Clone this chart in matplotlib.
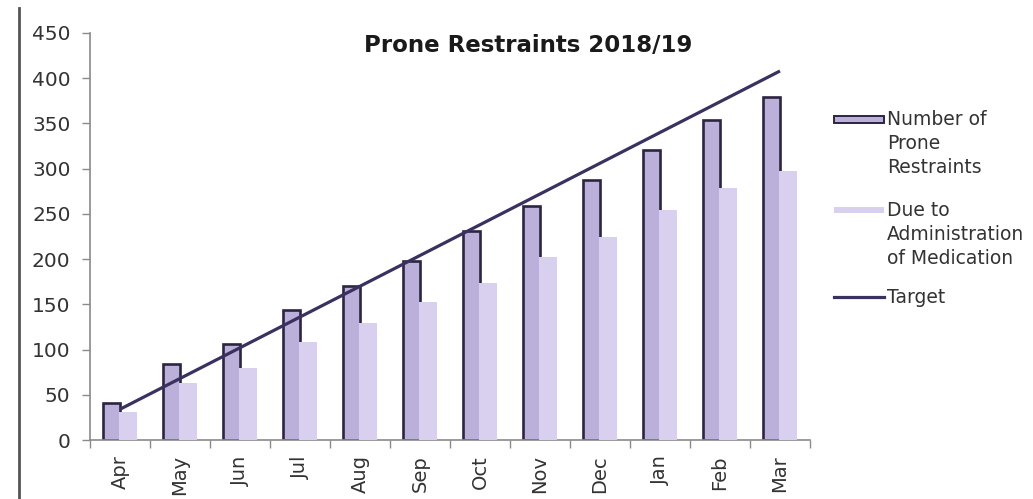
import matplotlib
matplotlib.use("Agg")
import matplotlib.pyplot as plt
import numpy as np
from matplotlib.patches import Rectangle
from matplotlib.lines import Line2D

months = ["Apr", "May", "Jun", "Jul", "Aug", "Sep", "Oct", "Nov", "Dec", "Jan", "Feb", "Mar"]
prone_restraints = [41, 84, 106, 144, 170, 198, 231, 259, 288, 321, 354, 379]
due_to_medication = [31, 63, 80, 108, 129, 153, 174, 202, 225, 254, 279, 297]
target = [34, 68, 102, 136, 170, 204, 238, 272, 306, 340, 374, 408]

title = "Prone Restraints 2018/19"
legend_labels = ["Number of\nProne\nRestraints", "Due to\nAdministration\nof Medication", "Target"]

dark_fill = "#bbb0da"
light_fill = "#d9cfee"
edge_col = "#2d2442"
line_col = "#3a3160"
axis_col = "#8a8a8a"

plt.rcParams["font.family"] = ["DejaVu Sans"]

W, H = 1033, 499
fig = plt.figure(figsize=(W / 100, H / 100), dpi=100)
fig.patch.set_facecolor("white")

ax = fig.add_axes([90 / W, 1 - 440 / H, 720 / W, 407 / H])

x = np.arange(len(months))
bw = 0.283
shift = 0.02  # second bar tucks over the right edge line of the first
ax.bar(x - bw / 2, prone_restraints, width=bw, color=dark_fill,
       edgecolor=edge_col, linewidth=1.9, zorder=2)
ax.bar(x + bw / 2 - shift / 2, due_to_medication, width=bw + shift, color=light_fill,
       edgecolor="none", linewidth=0, zorder=3)
ax.plot(x, target, color=line_col, linewidth=2.3, zorder=4,
        solid_capstyle="butt")

ax.set_xlim(-0.5, len(months) - 0.5)
ax.set_ylim(0, 450)
ax.set_yticks(np.arange(0, 451, 50))
ax.tick_params(axis="y", labelsize=14.5, colors=axis_col, labelcolor="#333333",
               length=6, width=1, pad=8, direction="out")

ax.set_xticks(x)
ax.set_xticklabels(months, rotation=90, fontsize=14, color="#333333")
ax.tick_params(axis="x", which="major", length=0, pad=11)
ax.set_xticks(np.arange(-0.5, len(months), 1.0), minor=True)
ax.tick_params(axis="x", which="minor", length=6, width=1, colors=axis_col,
               direction="out")

for side in ("top", "right"):
    ax.spines[side].set_visible(False)
for side in ("left", "bottom"):
    ax.spines[side].set_color(axis_col)
    ax.spines[side].set_linewidth(1.2)

fig.text(528 / W, 1 - 45 / H, title, ha="center", va="center",
         fontsize=16.5, fontweight="bold", color="#1a1a1a")

# page border on the left
fig.add_artist(Line2D([19 / W, 19 / W], [0, 1 - 8 / H], transform=fig.transFigure,
                      color="#555555", linewidth=2))

# legend
def fx(px):
    return px / W

def fy(py):
    return 1 - py / H

fig.add_artist(Rectangle((fx(834), fy(123)), 50 / W, 7 / H, transform=fig.transFigure,
                         facecolor=dark_fill, edgecolor=edge_col, linewidth=1.4))
fig.add_artist(Rectangle((fx(834), fy(213)), 50 / W, 6 / H, transform=fig.transFigure,
                         facecolor=light_fill, edgecolor="none"))
fig.add_artist(Line2D([fx(834), fx(884)], [fy(297), fy(297)], transform=fig.transFigure,
                      color=line_col, linewidth=2.3))

text_tops = [110, 201, 288]
for lbl, top in zip(legend_labels, text_tops):
    fig.text(fx(887), fy(top), lbl, ha="left", va="top", fontsize=13.5,
             color="#333333", linespacing=1.32)

fig.savefig("out.png", dpi=100, facecolor="white")
